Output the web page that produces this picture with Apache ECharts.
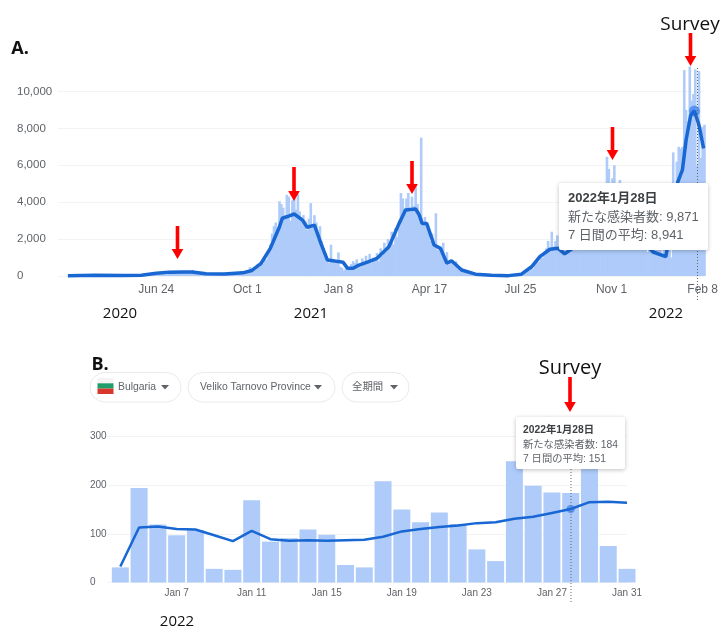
<!DOCTYPE html>
<html>
<head>
<meta charset="utf-8">
<style>
  html, body { margin: 0; padding: 0; background: #fff; }
  #main { width: 721px; height: 627px; }
</style>
<script src="https://cdn.jsdelivr.net/npm/echarts@6/dist/echarts.min.js"></script>
</head>
<body>
<div id="main"></div>
<script>
// Panel A: x is days since 20 Mar 2020, bars are sampled every 2 days
var casesStepA = 2;
var casesA = [
  20, 25, 30, 20, 30, 35, 25, 40, 30, 45,
  50, 40, 60, 40, 35, 50, 40, 30, 45, 30,
  25, 30, 40, 30, 25, 30, 20, 25, 30, 20,
  25, 20, 30, 25, 40, 50, 45, 60, 70, 60,
  80, 70, 90, 100, 110, 100, 130, 120, 160, 150,
  190, 210, 260, 230, 220, 240, 250, 210, 240, 230,
  220, 250, 200, 230, 220, 190, 210, 180, 330, 170,
  150, 140, 120, 130, 110, 100, 120, 110, 90, 120,
  100, 110, 90, 130, 100, 90, 110, 100, 130, 100,
  110, 140, 120, 150, 130, 170, 220, 180, 300, 480,
  260, 420, 350, 620, 480, 800, 650, 1000, 900, 1300,
  1700, 2300, 2700, 2900, 2600, 4050, 3900, 3700, 3300, 4400,
  4300, 3000, 4100, 4200, 3600, 4450, 3500, 3100, 3300, 3000,
  2500, 3100, 3950, 2800, 3300, 2900, 2000, 2700, 1900, 1500,
  1100, 800, 700, 1700, 900, 700, 800, 1280, 500, 450,
  300, 400, 350, 500, 650, 800, 700, 900, 600, 500,
  950, 700, 1100, 850, 1200, 700, 1000, 900, 1250, 800,
  1500, 1100, 1800, 1300, 2000, 1500, 2400, 1700, 2600, 2100,
  3000, 4500, 4200, 3700, 4200, 4500, 3500, 4300, 3800, 5000,
  3900, 3500, 7500, 2800, 3200, 2600, 2500, 1900, 2300, 1600,
  3400, 1400, 1500, 1300, 1800, 1000, 1300, 600, 800, 750,
  600, 800, 400, 350, 450, 250, 200, 300, 180, 150,
  120, 100, 130, 90, 70, 60, 50, 40, 50, 35,
  30, 40, 25, 30, 25, 20, 25, 20, 30, 20,
  25, 20, 40, 35, 60, 70, 110, 90, 150, 180,
  260, 300, 450, 400, 650, 900, 750, 1100, 1000, 1300,
  1500, 1900, 1450, 2400, 1600, 1900, 2200, 1500, 1700, 1200,
  1800, 1400, 2200, 1700, 2500, 1900, 2600, 1400, 2900, 2300,
  2700, 2000, 3100, 2500, 3300, 2200, 2900, 3400, 1700, 3600,
  3000, 3700, 4200, 6460, 5800, 2600, 5300, 6000, 3800, 4700,
  5200, 3500, 4200, 2000, 3700, 3100, 1800, 3300, 3000, 2600,
  3400, 1500, 3000, 2700, 2400, 1300, 2800, 2300, 2000, 2600,
  2200, 1800, 2600, 1200, 2400, 1100, 2000, 2500, 1000, 6700,
  5000, 6200, 7000, 6900, 7000, 11160, 9000, 8400, 11350, 9500,
  9871, 11200, 6000, 11100, 6400, 8090, 8200
];
var avgDaysA = [0, 30, 60, 80, 96, 110, 125, 135, 150, 170, 190, 200, 210, 220, 230, 233, 240, 246, 255, 260, 268, 275, 282, 288, 294, 299, 304, 310, 315, 327, 336, 349, 360, 367, 378, 382, 385, 390, 398, 405, 412, 417, 428, 443, 460, 479, 493, 504, 513, 524, 533, 540, 560, 585, 600, 620, 636, 650, 663, 668, 672, 677, 681, 686, 691];
var avgValuesA = [20, 40, 30, 40, 150, 210, 220, 220, 120, 110, 170, 300, 690, 1500, 2670, 3130, 3250, 3360, 3030, 2640, 2760, 1770, 870, 830, 780, 750, 415, 420, 560, 780, 960, 1590, 2850, 3580, 3630, 3300, 2850, 2850, 1680, 1500, 690, 830, 325, 100, 40, 20, 100, 500, 1050, 1450, 1500, 1200, 1900, 3600, 3300, 2200, 1300, 1050, 5100, 5750, 7370, 8720, 8941, 8180, 6920];
var ticksA = [96, 195, 294, 393, 492, 591, 690];
var tickLabelsA = ['Jun 24', 'Oct 1', 'Jan 8', 'Apr 17', 'Jul 25', 'Nov 1', 'Feb 8'];
var surveyDayA = 681;
var surveyAvgA = 8941;

// Panel B: x is the day of January 2022
var daysB = [4, 5, 6, 7, 8, 9, 10, 11, 12, 13, 14, 15, 16, 17, 18, 19, 20, 21, 22, 23, 24, 25, 26, 27, 28, 29, 30, 31];
var casesB = [31, 194, 119, 97, 108, 28, 26, 169, 84, 91, 109, 98, 36, 31, 208, 150, 124, 144, 120, 68, 44, 249, 199, 185, 184, 270, 75, 28];
var avgB = [33, 113, 115, 110, 109, 97, 85, 106, 89, 86, 87, 86, 87, 88, 94, 105, 110, 114, 117, 122, 124, 131, 135, 143, 151, 165, 166, 164];
var ticksB = [7, 11, 15, 19, 23, 27, 31];
var surveyDayB = 28;
var surveyAvgB = 151;

var labelColor = '#5f6368';
var barColor = '#aecbfa';
var lineColor = '#1967d2';
var sansFont = 'Liberation Sans';
var noteFont = 'Open Sans';
var cjkFont = '"Liberation Sans", "Noto Sans CJK JP"';

function pairs(xs, ys) {
    return ys.map(function (y, i) { return [xs[i], y]; });
}

var barDaysA = casesA.map(function (v, i) { return i * casesStepA; });

function arrow(x, top, tip) {
    return {
        type: 'polygon',
        z: 50,
        shape: {
            points: [[x - 1.8, top], [x + 1.8, top], [x + 1.8, tip - 10], [x + 5.8, tip - 10], [x, tip], [x - 5.8, tip - 10], [x - 1.8, tip - 10]]
        },
        style: {fill: '#ff0000'}
    };
}

function note(text, x, y, size, weight) {
    return {
        type: 'text',
        z: 50,
        x: x,
        y: y,
        style: {text: text, fill: '#111', font: (weight || 'normal') + ' ' + size + 'px "' + noteFont + '"', textAlign: 'center', textVerticalAlign: 'middle'}
    };
}

function dotted(x, y1, y2) {
    return {
        type: 'line',
        z: 40,
        shape: {x1: x, y1: y1, x2: x, y2: y2},
        style: {stroke: '#666', lineWidth: 1, lineDash: [1, 2]}
    };
}

function tipBox(x, y, w, h, pad, size, gap, lines) {
    var items = [{
        type: 'rect',
        z: 60,
        shape: {x: x, y: y, width: w, height: h, r: 2},
        style: {fill: '#fff', shadowBlur: 4, shadowColor: 'rgba(0,0,0,0.25)', shadowOffsetY: 1}
    }];
    lines.forEach(function (t, i) {
        items.push({
            type: 'text',
            z: 61,
            x: x + pad,
            y: y + pad + 6 + i * gap + (i > 0 ? 1 : 0),
            style: {
                text: t,
                fill: i === 0 ? '#3c4043' : '#5f6368',
                font: (i === 0 ? 'bold ' : '') + size + 'px ' + cjkFont,
                textVerticalAlign: 'middle'
            }
        });
    });
    return items;
}

function pill(x, w, label, labelX, caretX) {
    return [{
        type: 'rect',
        z: 1,
        shape: {x: x, y: 372.5, width: w, height: 29.5, r: 15},
        style: {fill: '#fff', stroke: '#e8eaed', lineWidth: 1}
    }, {
        type: 'text',
        z: 2,
        x: labelX,
        y: 387,
        style: {text: label, fill: labelColor, font: '10.4px ' + cjkFont, textVerticalAlign: 'middle'}
    }, {
        type: 'polygon',
        z: 2,
        shape: {points: [[caretX - 4, 385], [caretX + 4, 385], [caretX, 389.5]]},
        style: {fill: labelColor}
    }];
}

function flagBand(y, h, color) {
    return {type: 'rect', z: 3, shape: {x: 97.5, y: y, width: 16, height: h}, style: {fill: color}};
}

var annotations = [
    note('A.', 20, 49, 18, 'bold'),
    note('B.', 100, 365, 18, 'bold'),
    note('Survey', 690, 25, 19),
    note('Survey', 570, 368, 20),
    note('2020', 120, 314, 15),
    note('2021', 311, 314, 15),
    note('2022', 666, 314, 15),
    note('2022', 177, 622, 15),
    arrow(177.5, 226, 259),
    arrow(294, 167, 201),
    arrow(412, 161, 194),
    arrow(612.5, 127, 160),
    arrow(690.5, 33, 66),
    arrow(570, 377, 412),
    dotted(697.5, 68, 302),
    dotted(571, 469, 603),
    flagBand(378, 5.3, '#f4f4f4'),
    flagBand(383.3, 5.3, '#1f9d6b'),
    flagBand(388.6, 5.4, '#d9372a')
].concat(
    pill(90, 91, 'Bulgaria', 118, 165),
    pill(188, 147, 'Veliko Tarnovo Province', 200, 318),
    pill(342, 67, '全期間', 352, 394),
    tipBox(559, 183, 149, 67, 9, 13, 18, ['2022年1月28日', '新たな感染者数: 9,871', '7 日間の平均: 8,941']),
    tipBox(516, 417, 109, 52, 7, 10.3, 14, ['2022年1月28日', '新たな感染者数: 184', '7 日間の平均: 151'])
);

var mychart = echarts.init(document.getElementById('main'));

var option = {
    animation: false,
    backgroundColor: '#fff',
    grid: [
        {left: 58, top: 91.5, width: 649, height: 184.5},
        {left: 107, top: 436.5, width: 520, height: 146}
    ],
    xAxis: [{
        type: 'value',
        gridIndex: 0,
        min: -10.8,
        max: 692,
        splitLine: {show: false},
        axisLine: {show: false},
        axisTick: {show: false},
        axisLabel: {
            customValues: ticksA,
            color: labelColor,
            fontSize: 12,
            fontFamily: sansFont,
            margin: 8,
            formatter: function (v) { return tickLabelsA[ticksA.indexOf(v)]; }
        }
    }, {
        type: 'value',
        gridIndex: 1,
        min: 3.29,
        max: 31,
        splitLine: {show: false},
        axisLine: {show: false},
        axisTick: {show: false},
        axisLabel: {
            customValues: ticksB,
            color: labelColor,
            fontSize: 10,
            fontFamily: sansFont,
            margin: 6,
            formatter: function (v) { return 'Jan ' + v; }
        }
    }],
    yAxis: [{
        type: 'value',
        gridIndex: 0,
        min: 0,
        max: 10000,
        interval: 2000,
        axisLine: {show: false},
        axisTick: {show: false},
        splitLine: {lineStyle: {color: '#f1f3f4'}},
        axisLabel: {
            color: labelColor,
            fontSize: 11.5,
            fontFamily: sansFont,
            align: 'left',
            margin: 41,
            formatter: function (v) { return v.toLocaleString('en-US'); }
        }
    }, {
        type: 'value',
        gridIndex: 1,
        min: 0,
        max: 300,
        interval: 100,
        axisLine: {show: false},
        axisTick: {show: false},
        splitLine: {lineStyle: {color: '#f1f3f4'}},
        axisLabel: {
            color: labelColor,
            fontSize: 10,
            fontFamily: sansFont,
            align: 'left',
            margin: 17
        }
    }],
    series: [{
        name: '新たな感染者数',
        type: 'bar',
        xAxisIndex: 0,
        yAxisIndex: 0,
        barWidth: 2.6,
        clip: false,
        itemStyle: {color: barColor},
        data: pairs(barDaysA, casesA)
    }, {
        name: '7 日間の平均',
        type: 'line',
        xAxisIndex: 0,
        yAxisIndex: 0,
        showSymbol: false,
        clip: false,
        lineStyle: {color: lineColor, width: 3.5},
        data: pairs(avgDaysA, avgValuesA)
    }, {
        type: 'scatter',
        xAxisIndex: 0,
        yAxisIndex: 0,
        symbolSize: 11,
        itemStyle: {color: '#4285f4'},
        data: [[surveyDayA, surveyAvgA]]
    }, {
        name: '新たな感染者数',
        type: 'bar',
        xAxisIndex: 1,
        yAxisIndex: 1,
        barWidth: 17,
        clip: false,
        itemStyle: {color: barColor},
        data: pairs(daysB, casesB)
    }, {
        name: '7 日間の平均',
        type: 'line',
        xAxisIndex: 1,
        yAxisIndex: 1,
        showSymbol: false,
        clip: false,
        lineStyle: {color: lineColor, width: 2.5},
        data: pairs(daysB, avgB)
    }, {
        type: 'scatter',
        xAxisIndex: 1,
        yAxisIndex: 1,
        symbolSize: 8,
        itemStyle: {color: '#4285f4'},
        data: [[surveyDayB, surveyAvgB]]
    }],
    graphic: annotations
};

mychart.setOption(option);
</script>
</body>
</html>
